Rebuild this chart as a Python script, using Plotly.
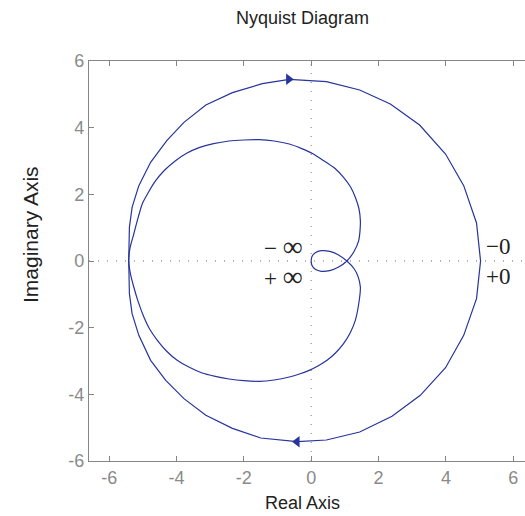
import plotly.graph_objects as go

# Outer contour (image of the small semicircle around the origin), clockwise from left
outer_x = [-5.42, -5.40, -5.32, -5.12, -4.77, -4.29, -3.78, -3.13, -2.34, -1.45, -0.65,
           0.45, 1.44, 2.35, 3.22, 3.99, 4.53, 4.91, 5.03,
           4.91, 4.53, 3.99, 3.24, 2.40, 1.44, 0.45, -0.42,
           -1.50, -2.34, -3.13, -3.78, -4.32, -4.77, -5.12, -5.32, -5.40, -5.42]
outer_y = [0.00, 1.01, 1.61, 2.26, 2.96, 3.61, 4.16, 4.68, 5.05, 5.32, 5.45,
           5.38, 5.13, 4.71, 4.08, 3.21, 2.26, 1.14, 0.00,
           -1.13, -2.23, -3.20, -4.03, -4.66, -5.13, -5.37, -5.42,
           -5.31, -5.02, -4.63, -4.13, -3.58, -2.98, -2.23, -1.58, -0.98, 0.00]

# Inner frequency-response curve
inner_x = [-5.42, -5.38, -5.27, -5.15, -5.02, -4.83, -4.62, -4.35, -4.03, -3.70, -3.33,
           -2.90, -2.44, -2.00, -1.55, -1.10, -0.65, -0.30, 0.05, 0.37, 0.70, 0.96,
           1.17, 1.31, 1.42, 1.46, 1.45, 1.41, 1.28, 1.06,
           0.80, 0.55, 0.30, 0.12, 0.02, 0.00,
           0.02, 0.12, 0.30, 0.55, 0.80, 1.06,
           1.28, 1.40, 1.46, 1.44, 1.31, 1.16, 0.96, 0.72, 0.47, 0.20, -0.06, -0.35,
           -0.65, -1.10, -1.55, -2.00, -2.44, -2.85, -3.24, -3.62, -3.98, -4.30,
           -4.57, -4.80, -4.97, -5.14, -5.27, -5.37, -5.42]
inner_y = [0.00, 0.40, 0.81, 1.27, 1.71, 2.07, 2.41, 2.73, 3.01, 3.23, 3.40,
           3.52, 3.60, 3.63, 3.64, 3.60, 3.51, 3.38, 3.22, 3.01, 2.78, 2.51,
           2.22, 1.91, 1.56, 1.21, 0.91, 0.61, 0.30, 0.00,
           -0.19, -0.29, -0.31, -0.25, -0.13, 0.00,
           0.13, 0.25, 0.31, 0.29, 0.19, 0.00,
           -0.24, -0.49, -0.78, -1.08, -1.78, -2.15, -2.48, -2.76, -2.98, -3.15, -3.28,
           -3.39,
           -3.48, -3.57, -3.61, -3.59, -3.54, -3.46, -3.36, -3.19, -2.98, -2.70,
           -2.38, -2.04, -1.68, -1.22, -0.78, -0.38, 0.00]

# Direction arrows
arrow_x = [-0.67, -0.42]
arrow_y = [5.45, -5.42]
arrow_symbol = ["triangle-right", "triangle-left"]

# Frequency annotations (upper line: negative side, lower line: positive side)
INF = "<span style='font-size:28px'>\u221e</span>"
label_text = ["\u2212 " + INF + "<br>+ " + INF, "\u22120<br>+0"]
label_x = [-0.18, 5.12]
label_anchor = ["right", "left"]

tick_vals = [-6, -4, -2, 0, 2, 4, 6]
tick_text = ["-6", "-4", "-2", "0", "2", "4", "6"]

LINE = "#26349c"
GRAY = "#858585"

fig = go.Figure()
fig.add_trace(go.Scatter(x=outer_x, y=outer_y, mode="lines",
                         line=dict(color=LINE, width=1.2), hoverinfo="skip"))
fig.add_trace(go.Scatter(x=inner_x, y=inner_y, mode="lines",
                         line=dict(color=LINE, width=1.2, shape="spline", smoothing=0.6),
                         hoverinfo="skip"))
fig.add_trace(go.Scatter(x=arrow_x, y=arrow_y, mode="markers",
                         marker=dict(symbol=arrow_symbol, size=10, color=LINE),
                         hoverinfo="skip"))

# dotted zero lines
fig.add_shape(type="line", xref="x", yref="paper", x0=0, x1=0, y0=0, y1=1,
              line=dict(color="#999999", width=1.3, dash="1px,8px"), layer="below")
fig.add_shape(type="line", xref="paper", yref="y", x0=0, x1=1, y0=0, y1=0,
              line=dict(color="#999999", width=1.3, dash="1px,8px"), layer="below")

for t, x, a in zip(label_text, label_x, label_anchor):
    fig.add_annotation(x=x, y=0, text=t, showarrow=False, xanchor=a, yanchor="middle",
                       align=a,
                       font=dict(family="Liberation Serif", size=23, color="#222222"))

fig.add_annotation(xref="paper", yref="paper", x=0.49, y=1, yshift=43, text="Nyquist Diagram",
                   showarrow=False, xanchor="center", yanchor="middle",
                   font=dict(family="Liberation Sans", size=18, color="#222222"))
fig.add_annotation(xref="paper", yref="paper", x=0.49, y=0, yshift=-42, text="Real Axis",
                   showarrow=False, xanchor="center", yanchor="middle",
                   font=dict(family="Liberation Sans", size=18, color="#222222"))
fig.add_annotation(xref="paper", yref="paper", x=0, xshift=-59, y=0.565, text="Imaginary Axis",
                   showarrow=False, xanchor="center", yanchor="middle", textangle=-90,
                   font=dict(family="Liberation Sans", size=21, color="#222222"))

axis_common = dict(showgrid=False, zeroline=False, ticks="inside", ticklen=5,
                   tickcolor=GRAY, showline=True, linecolor=GRAY, linewidth=1.2,
                   tickvals=tick_vals, ticktext=tick_text,
                   tickfont=dict(family="Liberation Sans", size=18, color="#8a8a8a"))

fig.update_layout(
    width=525, height=516, showlegend=False,
    margin=dict(l=89, r=0, t=61, b=55),
    plot_bgcolor="white", paper_bgcolor="white",
    xaxis=dict(range=[-6.60, 6.35], mirror="ticks", **axis_common),
    yaxis=dict(range=[-6, 6], mirror=False, **axis_common),
)

fig.write_html("out.html")
